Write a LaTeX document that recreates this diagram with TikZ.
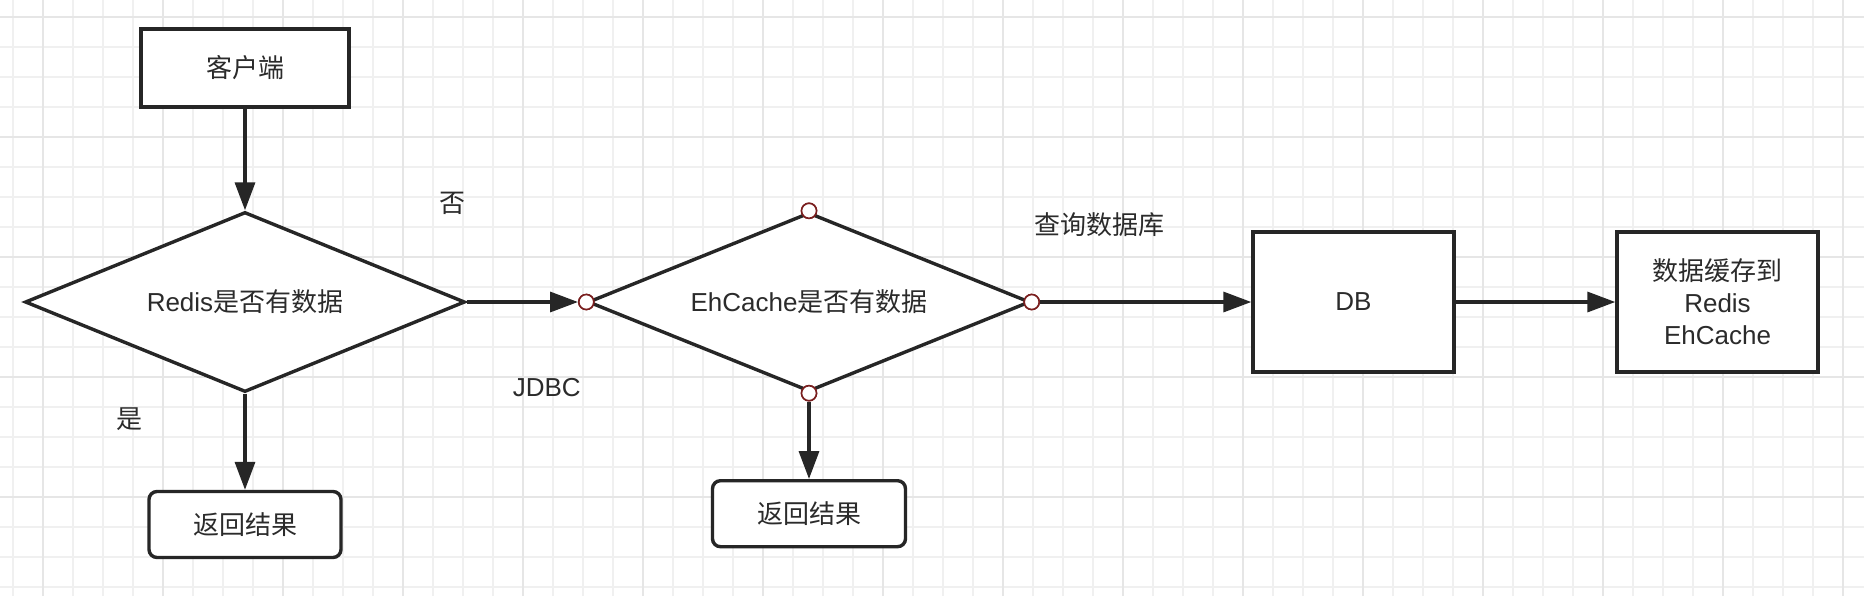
\documentclass[tikz,border=0pt]{standalone}
\usepackage{fontspec}
\setmainfont{Liberation Sans}
\newfontfamily\cjk{Noto Sans CJK SC}
\usetikzlibrary{shapes.geometric,arrows.meta}
\definecolor{ink}{HTML}{262626}
\definecolor{txt}{HTML}{2B2B2B}
\definecolor{gridminor}{HTML}{F0F0F0}
\definecolor{gridmajor}{HTML}{E6E6E6}
\definecolor{portred}{HTML}{7A1F1F}
\begin{document}
\begin{tikzpicture}[x=0.5pt,y=-0.5pt,
  font=\fontsize{13pt}{16pt}\selectfont,
  box/.style={draw=ink, line width=1.7pt, fill=white, text=txt, inner sep=0pt, align=center},
  rbox/.style={box, rounded corners=4pt},
  dec/.style={diamond, draw=ink, line width=1.7pt, fill=white, text=txt, inner sep=0pt, aspect=2.45},
  port/.style={circle, draw=portred, fill=white, line width=0.8pt, minimum size=7.5pt, inner sep=0pt},
  arr/.style={draw=ink, line width=1.7pt, -{Triangle[length=14pt,width=10pt]}},
  lbl/.style={text=txt, inner sep=0pt}]
\useasboundingbox (0,0) rectangle (1864,596);
\fill[white] (0,0) rectangle (1864,596);
% grid
\foreach \k in {0,...,61} \draw[gridminor, line width=0.9pt] ({12.7+30*\k},0) -- ({12.7+30*\k},596);
\foreach \k in {0,...,19} \draw[gridminor, line width=0.9pt] (0,{16.7+30*\k}) -- (1864,{16.7+30*\k});
\foreach \k in {0,...,15} \draw[gridmajor, line width=1.2pt] ({42.7+120*\k},0) -- ({42.7+120*\k},596);
\foreach \k in {0,...,4} \draw[gridmajor, line width=1.2pt] (0,{16.7+120*\k}) -- (1864,{16.7+120*\k});

% nodes
\node[box, minimum width=104pt, minimum height=39pt] (client) at (245,68) {\cjk 客户端};
\node[dec, minimum width=220pt, minimum height=90pt] (d1) at (245,302) {Redis{\cjk 是否有数据}};
\node[rbox, minimum width=96pt, minimum height=33pt] (res1) at (245,524.5) {\cjk 返回结果};
\node[dec, minimum width=221pt, minimum height=89.5pt] (d2) at (809,302) {EhCache{\cjk 是否有数据}};
\node[rbox, minimum width=96.5pt, minimum height=33pt] (res2) at (809,513.7) {\cjk 返回结果};
\node[box, minimum width=100.5pt, minimum height=70pt] (db) at (1353.5,302) {DB};
\node[box, minimum width=100.5pt, minimum height=70pt] (cache) at (1717.5,302) {{\cjk 数据缓存到}\\Redis\\EhCache};

% ports on EhCache diamond
\node[port] (pN) at (d2.north) {};
\node[port] (pW) at (d2.west) {};
\node[port] (pE) at (d2.east) {};
\node[port] (pS) at (d2.south) {};

% connectors
\draw[arr] (client.south) -- (d1.north);
\draw[arr] (d1.south) -- (res1.north);
\draw[arr] (d1.east) -- (pW.west);
\draw[arr] (pS.south) -- (res2.north);
\draw[arr] (pE.east) -- (db.west);
\draw[arr] (db.east) -- (cache.west);

% redraw ports on top
\node[port] at (d2.north) {};
\node[port] at (d2.west) {};
\node[port] at (d2.east) {};
\node[port] at (d2.south) {};

% labels
\node[lbl] (lno) at (452.5,203.5) {\cjk 否};
\node[lbl] (ljdbc) at (546.7,387.3) {JDBC};
\node[lbl] (lyes) at (129,419.5) {\cjk 是};
\node[lbl] (lquery) at (1099,225) {\cjk 查询数据库};
\end{tikzpicture}
\end{document}
